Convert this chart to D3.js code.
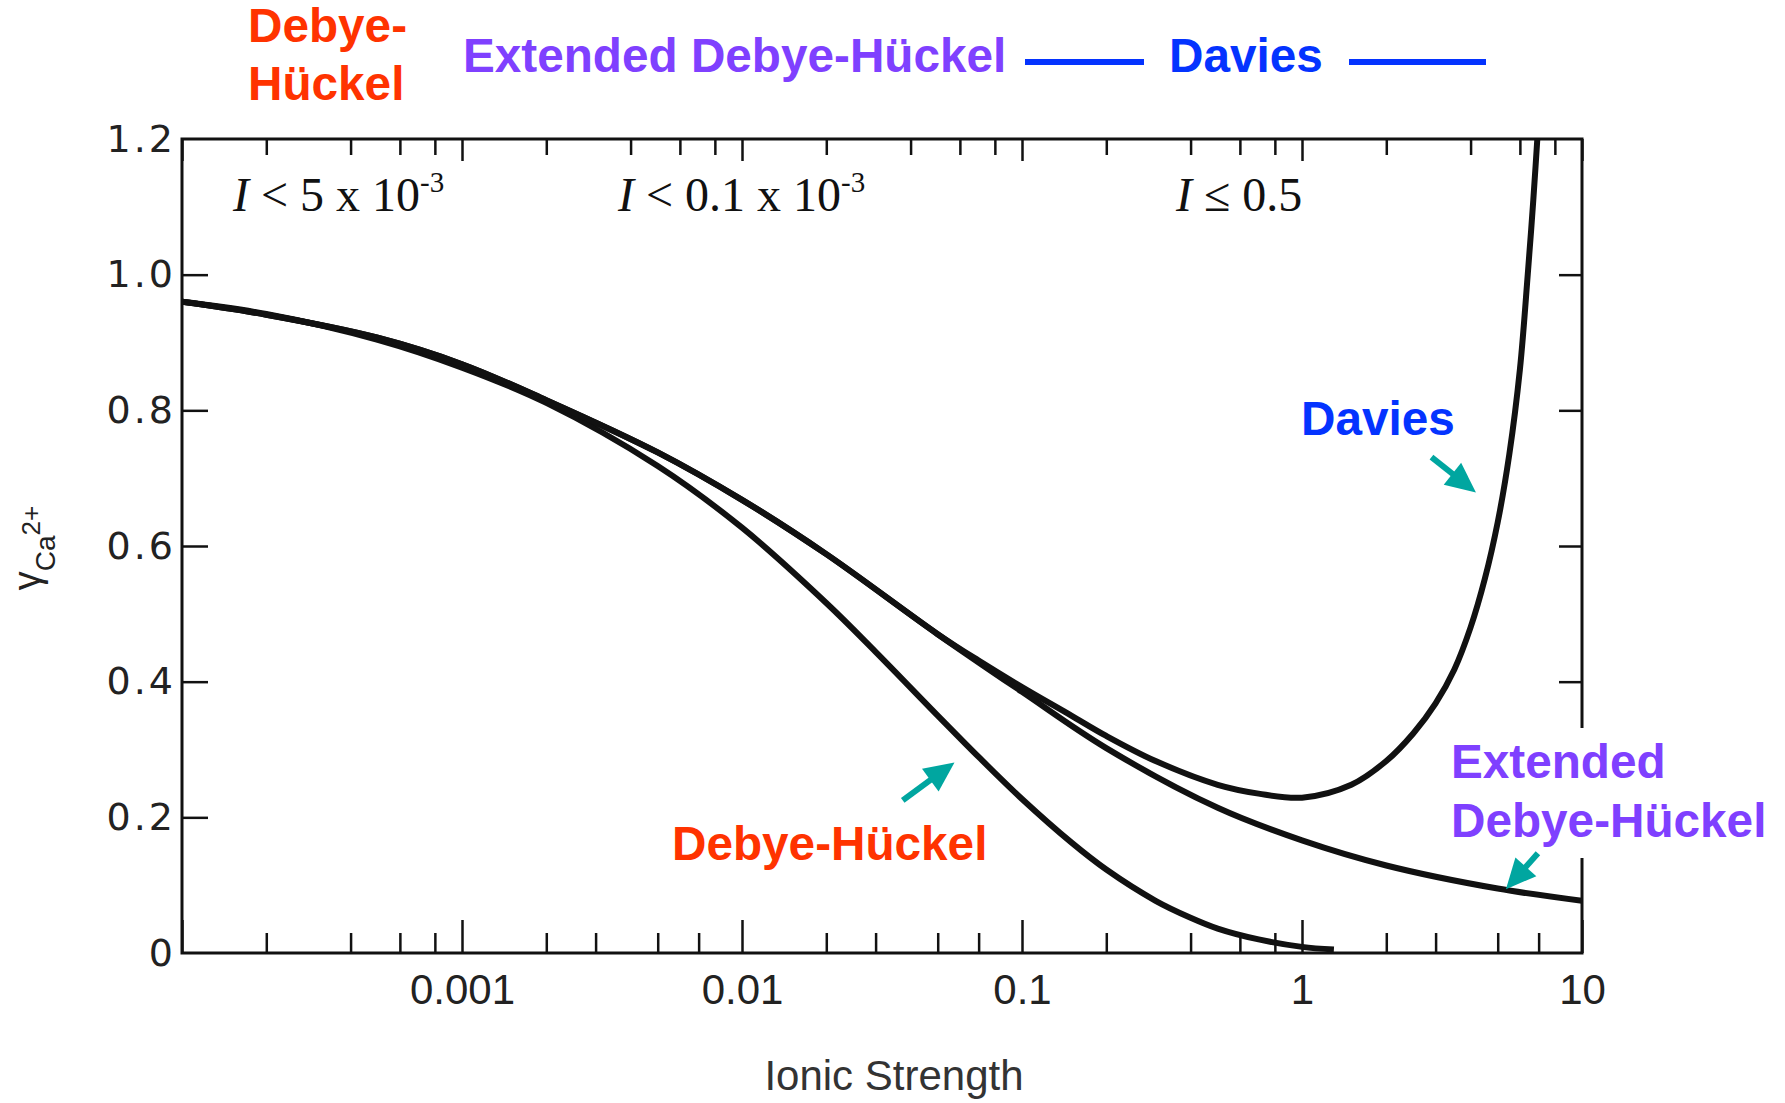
<!DOCTYPE html>
<html>
<head>
<meta charset="utf-8">
<script src="https://d3js.org/d3.v7.min.js"></script>
<style>
  body { margin: 0; background: #fff; }
  .lbl { font-family: "Liberation Sans", Arial, sans-serif; font-weight: bold; font-size: 47.7px; }
  .rng { font-family: "Liberation Serif", "Times New Roman", serif; font-size: 48px; fill: #111; }
</style>
</head>
<body>
<svg id="chart"></svg>
<script>

// activity coefficient of Ca2+ against ionic strength
const debyeI     = [0.0001, 0.0002, 0.0005, 0.001, 0.002, 0.005, 0.01, 0.02, 0.03, 0.05, 0.07, 0.1, 0.15, 0.2, 0.3, 0.4, 0.5, 0.7, 1.0, 1.3];
const debyeGamma = [0.960, 0.942, 0.904, 0.863, 0.811, 0.718, 0.627, 0.516, 0.444, 0.350, 0.289, 0.227, 0.163, 0.123, 0.077, 0.052, 0.036, 0.020, 0.009, 0.005];

const extendedI     = [0.0001, 0.0002, 0.0005, 0.001, 0.002, 0.005, 0.01, 0.02, 0.05, 0.1, 0.2, 0.5, 1, 2, 5, 10];
const extendedGamma = [0.960, 0.941, 0.907, 0.868, 0.815, 0.738, 0.668, 0.588, 0.470, 0.385, 0.302, 0.214, 0.166, 0.129, 0.095, 0.077];

const daviesI     = [0.0001, 0.0002, 0.0005, 0.001, 0.002, 0.005, 0.01, 0.02, 0.05, 0.07, 0.1, 0.15, 0.2, 0.3, 0.5, 0.7, 1, 1.5, 2, 2.5, 3, 3.5, 4, 4.5, 5, 5.5, 6, 6.4, 6.7, 7.0];
const daviesGamma = [0.960, 0.941, 0.907, 0.868, 0.815, 0.738, 0.668, 0.588, 0.470, 0.431, 0.392, 0.350, 0.320, 0.283, 0.248, 0.235, 0.229, 0.248, 0.283, 0.324, 0.368, 0.418, 0.480, 0.552, 0.635, 0.735, 0.860, 1.000, 1.110, 1.230];

// axis ticks
const xMajor = [0.0001, 0.001, 0.01, 0.1, 1, 10];
const xMajorLabels = ["", "0.001", "0.01", "0.1", "1", "10"];
const xMinorBottom = [2e-4, 4e-4, 6e-4, 8e-4, 2e-3, 3e-3, 5e-3, 7e-3, 0.02, 0.03, 0.05, 0.07, 0.2, 0.4, 0.6, 0.8, 2, 3, 5, 7];
const xMinorTop = [2e-4, 4e-4, 6e-4, 8e-4, 2e-3, 4e-3, 6e-3, 8e-3, 0.02, 0.04, 0.06, 0.08, 0.2, 0.4, 0.6, 0.8, 2, 4, 6, 8];
const yTicks = [0, 0.2, 0.4, 0.6, 0.8, 1.0, 1.2];
const yTickLabels = ["0", "0.2", "0.4", "0.6", "0.8", "1.0", "1.2"];
const yInnerTicks = [0.2, 0.4, 0.6, 0.8, 1.0];

// arrows: [tail, tip] in data units
const daviesArrow = [[2.9, 0.731], [4.18, 0.679]];
const extendedArrow = [[6.96, 0.147], [5.35, 0.094]];
const debyeArrow = [[0.0375, 0.225], [0.0574, 0.281]];

const W = 1785, H = 1103;
const plot = {left: 182, right: 1582, top: 139, bottom: 953};

const svg = d3.select("#chart").attr("width", W).attr("height", H);
svg.append("rect").attr("width", W).attr("height", H).attr("fill", "#fff");

const x = d3.scaleLog().domain([0.0001, 10]).range([plot.left, plot.right]);
const y = d3.scaleLinear().domain([0, 1.2]).range([plot.bottom, plot.top]);

const red = "#ff3300", purple = "#7f40ff", blue = "#0433ff", teal = "#00a6a0";

// bottom axis, major ticks with labels
const gb = svg.append("g").attr("transform", "translate(0," + plot.bottom + ")")
  .call(d3.axisBottom(x).tickValues(xMajor).tickSize(-33).tickPadding(21)
    .tickFormat((d, i) => xMajorLabels[i]));
gb.append("g").call(d3.axisBottom(x).tickValues(xMinorBottom).tickSize(-20).tickFormat(""));

// top axis
const gt = svg.append("g").attr("transform", "translate(0," + plot.top + ")")
  .call(d3.axisTop(x).tickValues(xMajor).tickSize(-22).tickFormat(""));
gt.append("g").call(d3.axisTop(x).tickValues(xMinorTop).tickSize(-16).tickFormat(""));

// left axis
const gl = svg.append("g").attr("transform", "translate(" + plot.left + ",0)")
  .call(d3.axisLeft(y).tickValues(yTicks).tickSize(0).tickPadding(6)
    .tickFormat((d, i) => yTickLabels[i]));
gl.append("g").call(d3.axisLeft(y).tickValues(yInnerTicks).tickSize(-26).tickFormat(""));

// right axis
svg.append("g").attr("transform", "translate(" + plot.right + ",0)")
  .call(d3.axisRight(y).tickValues(yInnerTicks).tickSize(-23).tickFormat(""));

svg.selectAll(".domain").remove();
svg.selectAll(".tick line").attr("stroke", "#111").attr("stroke-width", 2.5);

gb.selectAll(".tick text")
  .attr("font-family", "Liberation Sans, Arial, sans-serif")
  .attr("font-size", 42).attr("fill", "#222");
gl.selectAll(".tick text")
  .attr("font-family", "DejaVu Sans, sans-serif")
  .attr("font-size", 38).attr("letter-spacing", 3).attr("fill", "#222");

// frame
svg.append("rect")
  .attr("x", plot.left).attr("y", plot.top)
  .attr("width", plot.right - plot.left).attr("height", plot.bottom - plot.top)
  .attr("fill", "none").attr("stroke", "#111").attr("stroke-width", 3);

// curves
svg.append("clipPath").attr("id", "clip").append("rect")
  .attr("x", plot.left).attr("y", plot.top)
  .attr("width", plot.right - plot.left).attr("height", plot.bottom - plot.top + 3);

const line = d3.line()
  .x(d => x(d[0])).y(d => y(d[1]))
  .curve(d3.curveCatmullRom.alpha(0.5));

const series = [
  d3.zip(debyeI, debyeGamma),
  d3.zip(extendedI, extendedGamma),
  d3.zip(daviesI, daviesGamma)
];

svg.append("g").attr("clip-path", "url(#clip)")
  .selectAll("path").data(series).enter().append("path")
    .attr("d", line)
    .attr("fill", "none")
    .attr("stroke", "#111")
    .attr("stroke-width", 6)
    .attr("stroke-linejoin", "round");

// white patch behind the right-hand label, as in the original
svg.append("rect").attr("x", 1445).attr("y", 728).attr("width", 340).attr("height", 130).attr("fill", "#fff");

// axis titles
svg.append("text")
  .attr("x", 894).attr("y", 1090)
  .attr("text-anchor", "middle")
  .attr("font-family", "Liberation Sans, Arial, sans-serif")
  .attr("font-size", 42).attr("fill", "#333")
  .text("Ionic Strength");

const yt = svg.append("text")
  .attr("transform", "translate(40,548) rotate(-90)")
  .attr("text-anchor", "middle")
  .attr("font-family", "Liberation Sans, Arial, sans-serif")
  .attr("fill", "#222");
yt.append("tspan").attr("font-size", 38).text("γ");
yt.append("tspan").attr("font-size", 28).attr("dy", 15).text("Ca");
yt.append("tspan").attr("font-size", 26).attr("dy", -15).text("2+");

// range notes inside the plot
function rangeNote(px, parts) {
  const t = svg.append("text").attr("class", "rng").attr("x", px).attr("y", 211);
  parts.forEach(p => {
    const s = t.append("tspan").text(p.t);
    if (p.i) s.attr("font-style", "italic");
    if (p.sup) s.attr("font-size", 29).attr("dy", -19);
  });
}
rangeNote(233, [{t: "I", i: true}, {t: " < 5 x 10"}, {t: "-3", sup: true}]);
rangeNote(618, [{t: "I", i: true}, {t: " < 0.1 x 10"}, {t: "-3", sup: true}]);
rangeNote(1176, [{t: "I", i: true}, {t: " \u2264 0.5"}]);

// header legend
const hdr = svg.append("text").attr("class", "lbl").attr("fill", red);
hdr.append("tspan").attr("x", 248).attr("y", 42).text("Debye-");
hdr.append("tspan").attr("x", 248).attr("y", 100).text("Hückel");
svg.append("text").attr("class", "lbl").attr("fill", purple)
  .attr("x", 463).attr("y", 72).text("Extended Debye-Hückel");
svg.append("line").attr("x1", 1025).attr("x2", 1144).attr("y1", 62).attr("y2", 62)
  .attr("stroke", blue).attr("stroke-width", 6);
svg.append("text").attr("class", "lbl").attr("fill", blue)
  .attr("x", 1169).attr("y", 72).text("Davies");
svg.append("line").attr("x1", 1349).attr("x2", 1486).attr("y1", 62).attr("y2", 62)
  .attr("stroke", blue).attr("stroke-width", 6);

// curve labels
svg.append("text").attr("class", "lbl").attr("fill", blue)
  .attr("x", 1301).attr("y", 435).text("Davies");
const ext = svg.append("text").attr("class", "lbl").attr("fill", purple);
ext.append("tspan").attr("x", 1451).attr("y", 778).text("Extended");
ext.append("tspan").attr("x", 1451).attr("y", 837).text("Debye-Hückel");
svg.append("text").attr("class", "lbl").attr("fill", red)
  .attr("x", 672).attr("y", 860).text("Debye-Hückel");

function arrow(a) {
  const x1 = x(a[0][0]), y1 = y(a[0][1]), x2 = x(a[1][0]), y2 = y(a[1][1]);
  const ang = Math.atan2(y2 - y1, x2 - x1);
  const L = 30, hw = 14;
  const bx = x2 - L * Math.cos(ang), by = y2 - L * Math.sin(ang);
  svg.append("line").attr("x1", x1).attr("y1", y1).attr("x2", bx + 2 * Math.cos(ang)).attr("y2", by + 2 * Math.sin(ang))
    .attr("stroke", teal).attr("stroke-width", 6);
  const px = -Math.sin(ang) * hw, py = Math.cos(ang) * hw;
  svg.append("polygon")
    .attr("points", [[x2, y2], [bx + px, by + py], [bx - px, by - py]].map(p => p.join(",")).join(" "))
    .attr("fill", teal);
}
arrow(daviesArrow);
arrow(extendedArrow);
arrow(debyeArrow);

</script>
</body>
</html>
